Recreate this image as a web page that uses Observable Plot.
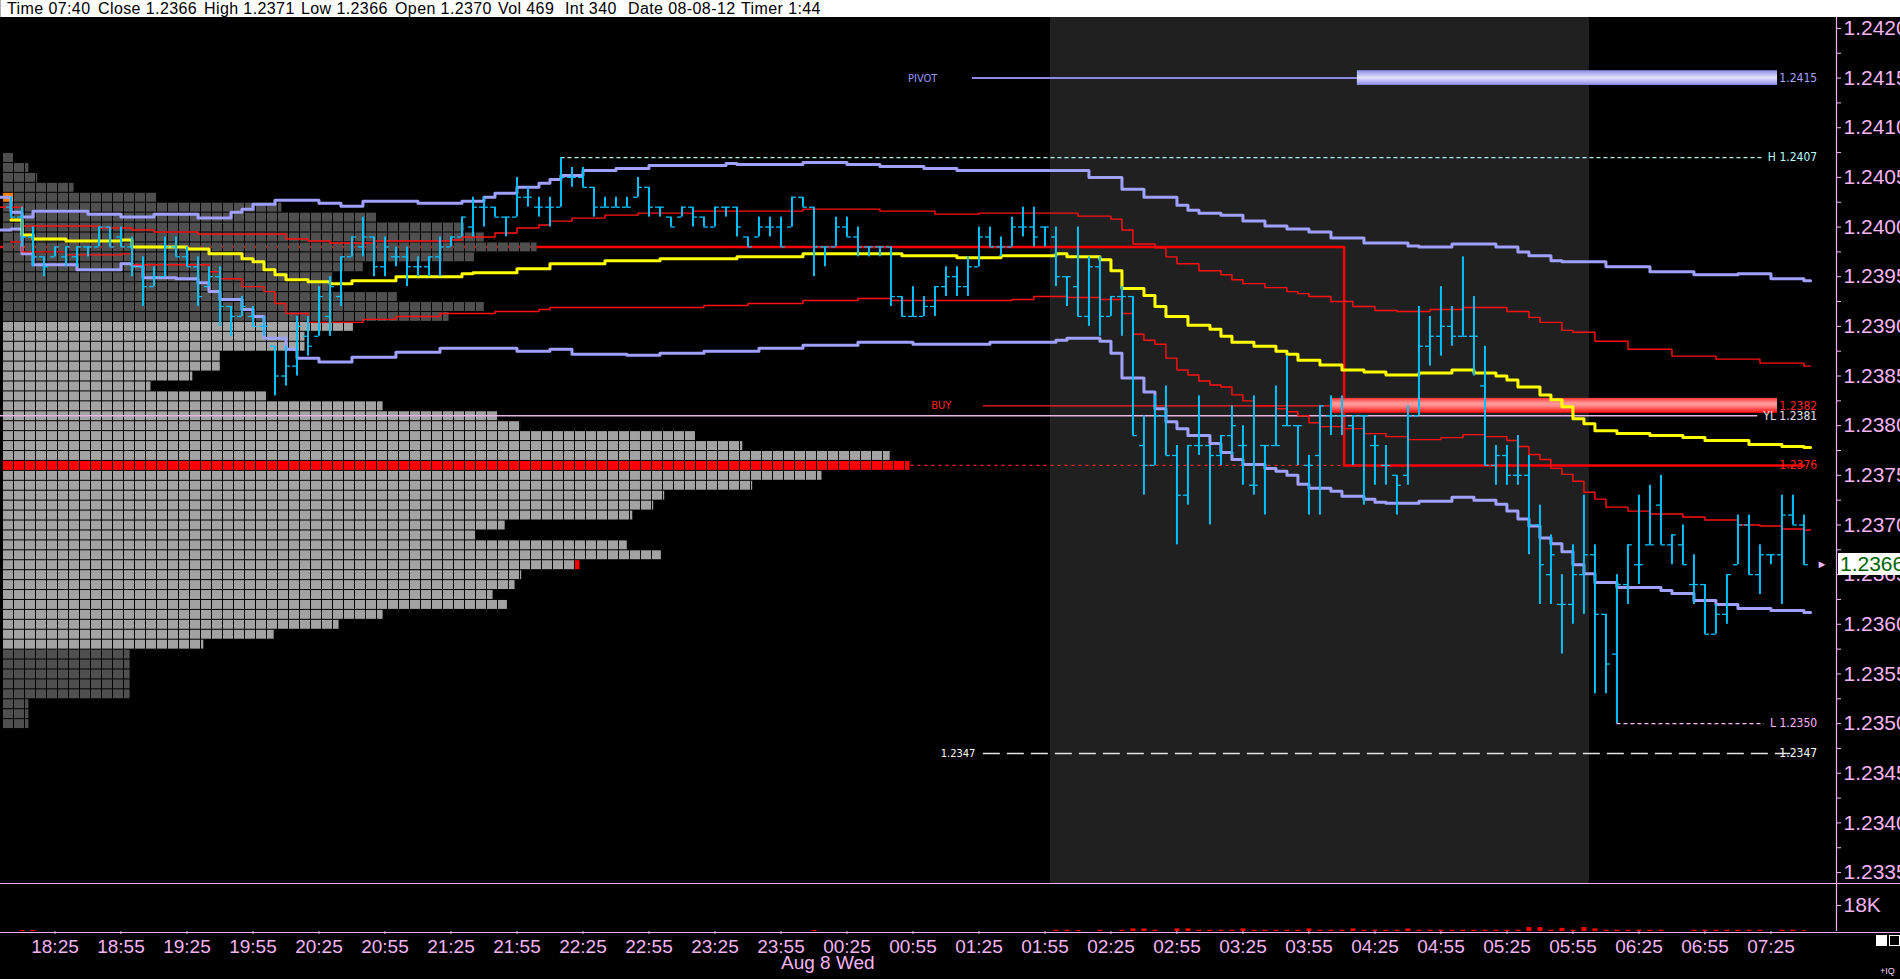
<!DOCTYPE html>
<html>
<head>
<meta charset="utf-8">
<script src="https://cdn.jsdelivr.net/npm/d3@7"></script>
<script src="https://cdn.jsdelivr.net/npm/@observablehq/plot@0.6"></script>
<style>
  html, body { margin:0; padding:0; background:#000; width:1900px; height:979px; overflow:hidden; }
  #wrap { position:relative; width:1900px; height:979px; background:#000; font-family:"Liberation Sans", Arial, sans-serif; }
  #hdr { position:absolute; left:0; top:0; width:1900px; height:17px; background:#fff; border-left:1px solid #b0b0b0; box-sizing:border-box; overflow:hidden; }
  #hdr span { position:absolute; top:0; font-size:16px; letter-spacing:0.4px; line-height:17px; color:#000; white-space:nowrap; }
  #main { position:absolute; left:0; top:17px; }
  #vol { position:absolute; left:0; top:883px; }
  .hline { position:absolute; left:0; width:1900px; height:1px; background:#f4b4f4; }
  #pricebox { position:absolute; left:1838px; width:62px; height:22px; background:#fff; color:#006400; font-size:21px; line-height:22px; padding-left:2px; box-sizing:border-box; white-space:nowrap; overflow:hidden; }
  .sq { position:absolute; width:11px; height:11px; box-sizing:border-box; }
  #iq { position:absolute; left:1880px; top:966px; font-size:9px; color:#f0d8f0; }
</style>
</head>
<body>
<div id="wrap">
  <div id="hdr"></div>
  <div id="main"></div>
  <div id="vol"></div>
</div>
<script>
// ---------------- DATA ----------------
const headerFields = ["Time 07:40", "Close 1.2366", "High 1.2371", "Low 1.2366", "Open 1.2370", "Vol 469", "Int 340", "Date 08-08-12", "Timer 1:44"];

const priceTicks = [1.2335, 1.2340, 1.2345, 1.2350, 1.2355, 1.2360, 1.2365, 1.2370, 1.2375, 1.2380, 1.2385, 1.2390, 1.2395, 1.2400, 1.2405, 1.2410, 1.2415, 1.2420];
const minorTicks = [1.23375, 1.23425, 1.23475, 1.23525, 1.23575, 1.23625, 1.23675, 1.23725, 1.23775, 1.23825, 1.23875, 1.23925, 1.23975, 1.24025, 1.24075, 1.24125, 1.24175];
const timeTicks = ["18:25","18:55","19:25","19:55","20:25","20:55","21:25","21:55","22:25","22:55","23:25","23:55","00:25","00:55","01:25","01:55","02:25","02:55","03:25","03:55","04:25","04:55","05:25","05:55","06:25","06:55","07:25"];
const dateLabels = [{ t: "23:55", text: "Aug 8 Wed" }];
const volTickValues = [18000];
const volTickLabels = ["18K"];

// 5-minute OHLC bars, first bar 18:05
const firstBar = "18:05";
const barHigh = [
 1.2403,1.2402,1.2400,1.2397,1.2398,1.2398,1.2398,1.2398,1.2400,1.2400,
 1.2400,1.2399,1.2397,1.2396,1.2399,1.2399,1.2398,1.2397,1.2396,1.2396,
 1.2392,1.2393,1.2392,1.2391,1.2388,1.2388,1.2391,1.2391,1.2394,1.2395,
 1.2397,1.2399,1.2401,1.2399,1.2399,1.2398,1.2398,1.2397,1.2397,1.2399,
 1.2399,1.2401,1.2403,1.2403,1.2402,1.2401,1.2405,1.2404,1.2403,1.2403,
 1.2407,1.2406,1.2406,1.2404,1.2403,1.2403,1.2403,1.2405,1.2404,1.2402,
 1.2401,1.2402,1.2402,1.2401,1.2402,1.2402,1.2402,1.2399,1.2401,1.2401,
 1.2401,1.2403,1.2403,1.2402,1.2398,1.2401,1.2401,1.2400,1.2398,1.2398,
 1.2398,1.2393,1.2394,1.2393,1.2394,1.2396,1.2396,1.2397,1.2400,1.2400,
 1.2399,1.2401,1.2402,1.2402,1.2400,1.2400,1.2395,1.2400,1.2397,1.2397,
 1.2393,1.2394,1.2393,1.2381,1.2383,1.2384,1.2378,1.2378,1.2383,1.2378,
 1.2379,1.2382,1.2380,1.2383,1.2378,1.2384,1.2387,1.2380,1.2377,1.2382,
 1.2383,1.2383,1.2381,1.2381,1.2379,1.2378,1.2375,1.2382,1.2392,1.2391,
 1.2394,1.2392,1.2397,1.2393,1.2388,1.2378,1.2378,1.2379,1.2377,1.2372,
 1.2369,1.2365,1.2368,1.2373,1.2368,1.2361,1.2365,1.2368,1.2373,1.2374,
 1.2375,1.2369,1.2370,1.2367,1.2364,1.2362,1.2365,1.2371,1.2371,1.2368,
 1.2367,1.2373,1.2373,1.2371];
const barLow = [
 1.2401,1.2398,1.2396,1.2395,1.2397,1.2396,1.2396,1.2397,1.2398,1.2398,
 1.2398,1.2395,1.2392,1.2394,1.2395,1.2397,1.2396,1.2392,1.2394,1.2390,
 1.2389,1.2391,1.2390,1.2389,1.2383,1.2384,1.2385,1.2387,1.2389,1.2389,
 1.2392,1.2397,1.2397,1.2395,1.2395,1.2396,1.2394,1.2395,1.2395,1.2395,
 1.2398,1.2399,1.2399,1.2400,1.2401,1.2399,1.2401,1.2402,1.2401,1.2400,
 1.2402,1.2404,1.2404,1.2401,1.2402,1.2402,1.2402,1.2403,1.2401,1.2401,
 1.2400,1.2401,1.2400,1.2400,1.2400,1.2401,1.2399,1.2398,1.2399,1.2399,
 1.2398,1.2400,1.2402,1.2395,1.2396,1.2398,1.2399,1.2397,1.2397,1.2397,
 1.2392,1.2391,1.2391,1.2391,1.2391,1.2393,1.2393,1.2393,1.2396,1.2398,
 1.2397,1.2398,1.2399,1.2398,1.2398,1.2394,1.2392,1.2391,1.2390,1.2389,
 1.2391,1.2389,1.2379,1.2373,1.2376,1.2377,1.2368,1.2372,1.2377,1.2370,
 1.2376,1.2377,1.2374,1.2373,1.2371,1.2378,1.2380,1.2376,1.2371,1.2371,
 1.2379,1.2379,1.2376,1.2372,1.2374,1.2374,1.2371,1.2374,1.2381,1.2386,
 1.2387,1.2388,1.2389,1.2385,1.2376,1.2374,1.2374,1.2374,1.2367,1.2362,
 1.2362,1.2357,1.2360,1.2361,1.2353,1.2353,1.2350,1.2362,1.2364,1.2368,
 1.2368,1.2366,1.2366,1.2362,1.2359,1.2359,1.2360,1.2366,1.2365,1.2363,
 1.2366,1.2362,1.2370,1.2366];
const barOpen = [
 1.2402,1.2401,1.2399,1.2397,1.2397,1.2397,1.2397,1.2398,1.2398,1.2400,
 1.2399,1.2398,1.2396,1.2394,1.2395,1.2398,1.2397,1.2396,1.2394,1.2395,
 1.2392,1.2391,1.2391,1.2390,1.2388,1.2385,1.2386,1.2389,1.2389,1.2391,
 1.2393,1.2397,1.2398,1.2399,1.2396,1.2397,1.2397,1.2396,1.2396,1.2397,
 1.2398,1.2399,1.2400,1.2402,1.2402,1.2401,1.2401,1.2403,1.2402,1.2402,
 1.2402,1.2405,1.2405,1.2404,1.2402,1.2402,1.2402,1.2403,1.2404,1.2402,
 1.2401,1.2401,1.2402,1.2401,1.2400,1.2402,1.2402,1.2399,1.2399,1.2400,
 1.2400,1.2400,1.2403,1.2402,1.2398,1.2398,1.2400,1.2399,1.2398,1.2398,
 1.2398,1.2393,1.2391,1.2391,1.2392,1.2394,1.2395,1.2394,1.2396,1.2399,
 1.2398,1.2398,1.2400,1.2400,1.2400,1.2399,1.2395,1.2394,1.2391,1.2396,
 1.2391,1.2393,1.2393,1.2378,1.2376,1.2381,1.2377,1.2373,1.2378,1.2378,
 1.2377,1.2379,1.2378,1.2374,1.2378,1.2378,1.2380,1.2380,1.2376,1.2377,
 1.2381,1.2381,1.2380,1.2381,1.2378,1.2376,1.2375,1.2375,1.2381,1.2388,
 1.2389,1.2390,1.2389,1.2389,1.2384,1.2376,1.2377,1.2375,1.2375,1.2370,
 1.2365,1.2362,1.2362,1.2365,1.2367,1.2361,1.2357,1.2364,1.2366,1.2368,
 1.2372,1.2368,1.2368,1.2364,1.2364,1.2359,1.2361,1.2366,1.2370,1.2365,
 1.2367,1.2367,1.2371,1.2370];
const barClose = [
 1.2401,1.2399,1.2397,1.2396,1.2398,1.2398,1.2398,1.2398,1.2400,1.2398,
 1.2398,1.2396,1.2394,1.2395,1.2398,1.2397,1.2396,1.2393,1.2395,1.2392,
 1.2391,1.2392,1.2390,1.2390,1.2385,1.2386,1.2390,1.2388,1.2393,1.2394,
 1.2397,1.2399,1.2399,1.2396,1.2398,1.2397,1.2396,1.2396,1.2397,1.2398,
 1.2399,1.2401,1.2402,1.2402,1.2401,1.2401,1.2403,1.2403,1.2402,1.2402,
 1.2405,1.2405,1.2404,1.2402,1.2402,1.2402,1.2402,1.2404,1.2402,1.2402,
 1.2400,1.2402,1.2401,1.2400,1.2402,1.2402,1.2400,1.2398,1.2400,1.2400,
 1.2398,1.2403,1.2402,1.2398,1.2398,1.2400,1.2399,1.2398,1.2398,1.2398,
 1.2393,1.2391,1.2391,1.2392,1.2394,1.2395,1.2394,1.2396,1.2399,1.2398,
 1.2398,1.2400,1.2400,1.2399,1.2400,1.2395,1.2395,1.2391,1.2396,1.2391,
 1.2393,1.2393,1.2379,1.2376,1.2381,1.2377,1.2373,1.2378,1.2378,1.2377,
 1.2379,1.2380,1.2378,1.2374,1.2378,1.2378,1.2380,1.2380,1.2376,1.2382,
 1.2381,1.2381,1.2381,1.2381,1.2378,1.2376,1.2374,1.2381,1.2388,1.2389,
 1.2390,1.2389,1.2389,1.2389,1.2376,1.2377,1.2375,1.2375,1.2370,1.2366,
 1.2367,1.2362,1.2365,1.2367,1.2361,1.2356,1.2364,1.2368,1.2366,1.2368,
 1.2368,1.2369,1.2366,1.2364,1.2359,1.2361,1.2365,1.2370,1.2365,1.2367,
 1.2367,1.2371,1.2370,1.2366];

// volume profile (rows of 1 pip, width in 5-minute cells)
const profilePrices = [
 1.2407,1.2406,1.2405,1.2404,1.2403,1.2402,1.2401,1.2400,1.2399,1.2398,
 1.2397,1.2396,1.2395,1.2394,1.2393,1.2392,1.2391,1.2390,1.2389,1.2388,
 1.2387,1.2386,1.2385,1.2384,1.2383,1.2382,1.2381,1.2380,1.2379,1.2378,
 1.2377,1.2376,1.2375,1.2374,1.2373,1.2372,1.2371,1.2370,1.2369,1.2368,
 1.2367,1.2366,1.2365,1.2364,1.2363,1.2362,1.2361,1.2360,1.2359,1.2358,
 1.2357,1.2356,1.2355,1.2354,1.2353,1.2352,1.2351,1.2350];
const profileCells = [
 1.0,2.4,3.2,6.5,14.0,25.4,34.0,42.1,43.8,48.6,
 42.9,32.8,30.0,29.7,35.9,43.8,40.6,31.9,27.5,27.5,
 19.8,19.8,17.3,13.5,24.1,34.6,45.0,47.1,63.0,67.3,
 80.7,82.5,74.5,68.2,60.2,59.2,57.3,45.7,43.0,56.8,
 59.9,52.5,47.2,46.6,44.6,45.9,34.6,30.6,24.7,18.3,
 11.6,11.6,11.6,11.6,11.6,2.4,2.4,2.4];
const valueAreaHigh = 1.2390, valueAreaLow = 1.2358, pocPrice = 1.2376, openRowPrice = 1.2403;

// step bands [time, price]
const upperLavender = [["18:00",1.2403],["18:05",1.24015],["18:10",1.2401],["18:15",1.24016],["18:40",1.24013],["18:55",1.2401],["19:10",1.24013],["19:30",1.24009],["19:45",1.24015],["19:50",1.24018],["19:55",1.24023],["20:05",1.24027],["20:25",1.24024],["20:35",1.24021],["20:45",1.24026],["21:10",1.24024],["21:30",1.24026],["21:40",1.2403],["21:45",1.24034],["21:55",1.2404],["22:05",1.24044],["22:10",1.24048],["22:15",1.24052],["22:25",1.24057],["22:40",1.24059],["22:55",1.24062],["23:30",1.24064],["23:35",1.24063],["00:05",1.24065],["00:25",1.24063],["00:40",1.24061],["01:00",1.24059],["01:15",1.24057],["02:15",1.2405],["02:30",1.24038],["02:40",1.2403],["02:55",1.24022],["03:00",1.24017],["03:05",1.24014],["03:15",1.24012],["03:25",1.24006],["03:35",1.24001],["03:45",1.23998],["03:55",1.23995],["04:05",1.23989],["04:20",1.23984],["04:40",1.23981],["04:45",1.2398],["05:00",1.23983],["05:20",1.2398],["05:30",1.23975],["05:35",1.23971],["05:45",1.23966],["05:50",1.23965],["06:10",1.2396],["06:30",1.23955],["06:50",1.23952],["07:10",1.23953],["07:25",1.23948],["07:40",1.23946]];
const upperRed = [["18:00",1.2402],["18:10",1.24001],["18:45",1.23999],["19:00",1.23997],["19:10",1.23995],["19:30",1.23993],["20:10",1.23988],["20:20",1.23986],["20:30",1.23984],["20:50",1.23986],["21:25",1.23987],["21:30",1.2399],["21:45",1.23994],["21:55",1.23999],["22:05",1.24002],["22:10",1.24006],["22:20",1.24009],["22:35",1.24012],["22:50",1.24014],["23:15",1.24016],["00:05",1.24018],["00:40",1.24016],["01:05",1.24013],["01:25",1.24014],["02:10",1.24011],["02:25",1.24008],["02:30",1.23997],["02:35",1.23983],["02:45",1.23979],["02:50",1.2397],["02:55",1.23963],["03:05",1.23956],["03:15",1.23952],["03:20",1.23947],["03:25",1.23943],["03:35",1.23939],["03:45",1.23935],["03:50",1.23933],["03:55",1.2393],["04:05",1.23925],["04:15",1.2392],["04:25",1.23916],["04:35",1.23915],["04:50",1.23917],["05:05",1.23919],["05:25",1.23915],["05:35",1.23909],["05:40",1.23904],["05:50",1.23896],["05:55",1.23894],["06:05",1.23885],["06:20",1.23877],["06:40",1.2387],["07:00",1.23867],["07:20",1.23863],["07:40",1.2386]];
const vwapYellow = [["18:05",1.24007],["18:10",1.23992],["18:15",1.23988],["18:30",1.23986],["18:55",1.23987],["19:00",1.2398],["19:25",1.23978],["19:35",1.23973],["19:50",1.23968],["19:55",1.23965],["20:00",1.23957],["20:05",1.23952],["20:10",1.23947],["20:20",1.23945],["20:30",1.23943],["20:40",1.23946],["21:00",1.2395],["21:30",1.23953],["21:35",1.23954],["21:55",1.23958],["22:10",1.23963],["22:35",1.23966],["23:00",1.23968],["23:35",1.2397],["00:05",1.23973],["00:50",1.23971],["01:15",1.23969],["01:35",1.23971],["02:00",1.23973],["02:05",1.2397],["02:20",1.23967],["02:25",1.23956],["02:30",1.23938],["02:40",1.23931],["02:45",1.2392],["02:50",1.2391],["03:00",1.23901],["03:10",1.23897],["03:15",1.2389],["03:20",1.23884],["03:30",1.2388],["03:40",1.23875],["03:45",1.23872],["03:50",1.23866],["04:00",1.23861],["04:10",1.23856],["04:20",1.23854],["04:30",1.23851],["04:45",1.23853],["05:00",1.23856],["05:10",1.23853],["05:20",1.2385],["05:25",1.23846],["05:30",1.23839],["05:40",1.23831],["05:45",1.23826],["05:50",1.23819],["05:55",1.23807],["06:00",1.23802],["06:05",1.23795],["06:15",1.23792],["06:30",1.2379],["06:45",1.23788],["06:55",1.23785],["07:15",1.23781],["07:30",1.23779],["07:40",1.23778]];
const lowerRed = [["18:05",1.23985],["18:10",1.23975],["18:30",1.23972],["18:55",1.23973],["19:00",1.23962],["19:35",1.23955],["19:40",1.23948],["19:50",1.2394],["20:00",1.23935],["20:05",1.23923],["20:10",1.23913],["20:20",1.23904],["20:45",1.23907],["21:00",1.2391],["21:20",1.23913],["21:45",1.23915],["22:05",1.23917],["22:10",1.23919],["23:20",1.23921],["23:40",1.23923],["00:05",1.23926],["00:30",1.23928],["00:45",1.23926],["01:40",1.23927],["01:50",1.2393],["02:05",1.23929],["02:20",1.23927],["02:30",1.23913],["02:35",1.23892],["02:40",1.23886],["02:45",1.23882],["02:50",1.23868],["02:55",1.23856],["03:00",1.23851],["03:05",1.23845],["03:10",1.23841],["03:15",1.23839],["03:20",1.23831],["03:25",1.23825],["03:30",1.2382],["03:40",1.23817],["03:45",1.23814],["03:50",1.2381],["03:55",1.23803],["04:00",1.23799],["04:10",1.23797],["04:20",1.23792],["04:30",1.23789],["04:40",1.23786],["04:55",1.23788],["05:05",1.23791],["05:15",1.23789],["05:25",1.23785],["05:30",1.23779],["05:35",1.23771],["05:40",1.23766],["05:45",1.23757],["05:50",1.23751],["05:55",1.23744],["06:00",1.23733],["06:05",1.23726],["06:10",1.23718],["06:20",1.23714],["06:30",1.23711],["06:45",1.23708],["06:55",1.23705],["07:10",1.237],["07:20",1.23699],["07:30",1.23696],["07:40",1.23695]];
const lowerLavender = [["18:00",1.23997],["18:05",1.23998],["18:10",1.23973],["18:15",1.23962],["18:35",1.23957],["18:55",1.23963],["19:00",1.23961],["19:05",1.23949],["19:20",1.23948],["19:30",1.23944],["19:35",1.23935],["19:40",1.23927],["19:50",1.23917],["19:55",1.2391],["20:00",1.23888],["20:10",1.23877],["20:15",1.23868],["20:25",1.23864],["20:40",1.23869],["21:00",1.23874],["21:20",1.23878],["21:55",1.23875],["22:10",1.23877],["22:20",1.23872],["22:45",1.23871],["23:00",1.23873],["23:20",1.23875],["23:45",1.23878],["00:05",1.23881],["00:30",1.23884],["00:55",1.23882],["01:30",1.23884],["02:00",1.23886],["02:05",1.23888],["02:20",1.23885],["02:25",1.23873],["02:30",1.23848],["02:40",1.23834],["02:45",1.23817],["02:50",1.23804],["02:55",1.23797],["03:00",1.2379],["03:10",1.23782],["03:15",1.23773],["03:20",1.23766],["03:25",1.23761],["03:35",1.23757],["03:40",1.23754],["03:45",1.2375],["03:50",1.23741],["03:55",1.23737],["04:05",1.23734],["04:10",1.23729],["04:20",1.23726],["04:25",1.23723],["04:30",1.23722],["04:45",1.23724],["05:00",1.23728],["05:10",1.23725],["05:20",1.23721],["05:25",1.23714],["05:30",1.23706],["05:35",1.23699],["05:40",1.23687],["05:45",1.23681],["05:50",1.23673],["05:55",1.2366],["06:00",1.23651],["06:05",1.23642],["06:15",1.23637],["06:35",1.23634],["06:40",1.23631],["06:50",1.23624],["07:00",1.2362],["07:10",1.23616],["07:25",1.23614],["07:40",1.23612]];

// stop line (1.2398 then stepped to 1.2376)
const stopTimes = ["18:00", "04:11", "07:40"];
const stopPrices = [1.2398, 1.2376, 1.2376];

// horizontal levels
const pivotPrice = 1.2415, highPrice = 1.2407, buyPrice = 1.2382, ylPrice = 1.2381, lowPrice = 1.2350, dashPrice = 1.2347;
const rightLabels = ["1.2415", "H 1.2407", "1.2382", "YL 1.2381", "1.2376", "L 1.2350", "1.2347"];
const rightLabelPrices = [1.2415, 1.2407, 1.2382, 1.2381, 1.2376, 1.2350, 1.2347];
const leftLabels = ["PIVOT", "BUY", "1.2347"];
const leftLabelPrices = [1.2415, 1.2382, 1.2347];

// session shading
const sessionShade = ["01:57:30", "06:02:30"];

// volume (contracts) per 5-minute bar
const volTimes = ["18:10","18:15","00:10","02:00","02:05","02:10","02:20","02:30","02:35","02:40","02:45","02:55","03:00","03:05","03:10","03:15","03:20","03:25","03:30","03:35","03:40","03:45","03:50","03:55","04:00","04:05","04:10","04:15","04:20","04:25","04:30","04:35","04:40","04:45","04:50","04:55","05:00","05:05","05:10","05:15","05:20","05:25","05:30","05:35","05:40","05:45","05:50","05:55","06:00","06:05","06:10","06:15","06:20","06:25","06:30","06:35","06:50","06:55","07:00","07:05","07:10","07:15","07:20","07:30","07:35","07:40"];
const volValues = [700,700,700,900,900,700,900,900,1800,1800,900,1800,1800,900,900,900,900,1800,900,900,900,900,900,1800,900,900,900,1800,900,900,900,900,1800,900,900,900,900,900,900,900,900,900,900,2700,2700,900,2200,900,2700,1800,900,900,900,900,900,900,900,900,900,900,900,900,900,900,900,469];

// ---------------- HELPERS ----------------
const PINK = "#f4b4f4";
const SANS = '"Liberation Sans", Arial, Helvetica, sans-serif';
const SMALL = '"Liberation Sans Narrow", "DejaVu Sans Condensed", "Liberation Sans", sans-serif';
const DAY0 = Date.UTC(2012, 7, 7);
const MIN = 60000;
function T(s) {
  const parts = s.split(":").map(Number);
  const h = parts[0], m = parts[1], sec = parts[2] || 0;
  const hh = h < 12 ? h + 24 : h;
  return new Date(DAY0 + ((hh * 60 + m) * 60 + sec) * 1000);
}
const xDomain = [T("18:01:36"), T("07:54:48")];
const yDomain = [1.23339, 1.24211];

// header
const headerX = [6, 97, 203, 300, 394, 497, 564, 627, 740];
const hdr = document.getElementById("hdr");
headerFields.forEach((f, i) => { const s = document.createElement("span"); s.textContent = f; s.style.left = headerX[i] + "px"; hdr.appendChild(s); });

// bars
const t0 = T(firstBar);
const bars = barOpen.map((o, i) => ({ t: new Date(+t0 + i * 5 * MIN), o, h: barHigh[i], l: barLow[i], c: barClose[i] }));
const lastClose = barClose[barClose.length - 1];

// profile cells
const cellT = k => new Date(+xDomain[0] + k * 5 * MIN);
const near = (a, b) => Math.abs(a - b) < 1e-7;
const cells = [];
profilePrices.forEach((p, i) => {
  const n = profileCells[i];
  const kMax = Math.ceil(n);
  for (let k = 0; k < kMax; k++) {
    let fill = (p > valueAreaHigh + 1e-7 || p < valueAreaLow - 1e-7) ? "#4f4f4f" : "#a3a3a3";
    if (near(p, pocPrice)) fill = "#ff0000";
    if (near(p, openRowPrice) && k === 0) fill = "#ff8000";
    if (near(p, lastClose) && k === kMax - 1) fill = "#ff0000";
    cells.push({ p, a: k, b: Math.min(k + 1, n), fill });
  }
});
const pocEnd = cellT(profileCells[profilePrices.findIndex(p => near(p, pocPrice))]);

const mkBand = arr => {
  const pts = arr.map(([s, p]) => ({ t: T(s), p }));
  pts.push({ t: T("07:43"), p: arr[arr.length - 1][1] });
  return pts;
};
const stopPts = stopTimes.map((s, i) => ({ t: T(s), p: stopPrices[i] }));

const rightColors = ["#a4a4ff", "#b4ffff", "#ff2020", "#e8e0f0", "#ff2020", "#ffb4ff", "#ffffff"];
const leftColors = ["#9a9aff", "#ff2020", "#ffffff"];
const leftAnchorTimes = ["01:22", "01:27", "01:27"];
const leftDx = [-35, -32, -8];

// ---------------- MAIN PLOT ----------------
const main = Plot.plot({
  width: 1900, height: 866,
  marginLeft: 3, marginRight: 64, marginTop: 0, marginBottom: 0,
  x: { type: "utc", domain: xDomain, axis: null, label: null },
  y: { domain: yDomain, label: null },
  color: { type: "identity" },
  style: { background: "transparent", color: PINK, fontFamily: SANS, overflow: "visible" },
  marks: [
    Plot.rect([sessionShade], { x1: d => T(d[0]), x2: d => T(d[1]), fill: "#202020" }),
    Plot.line(stopPts, { x: "t", y: "p", curve: "step-after", stroke: "#ff0000", strokeWidth: 2.5 }),
    Plot.rect(cells, { x1: d => cellT(d.a), x2: d => cellT(d.b), y1: d => d.p - 0.00005, y2: d => d.p + 0.00005, fill: d => d.fill, insetRight: 1, insetTop: 1 }),
    Plot.ruleY([ylPrice], { x1: T("18:00"), x2: T("07:19"), stroke: "#e6b4e6", strokeWidth: 1.3 }),
    Plot.ruleY([pocPrice], { x1: pocEnd, x2: T("04:11"), stroke: "#ff2020", strokeWidth: 1.3, strokeDasharray: "3,4" }),
    Plot.ruleY([highPrice], { x1: T("22:15"), x2: T("07:22"), stroke: "#b4f4f4", strokeWidth: 1.2, strokeDasharray: "4,3" }),
    Plot.ruleY([lowPrice], { x1: T("06:15"), x2: T("07:22"), stroke: "#ffb4ff", strokeWidth: 1.2, strokeDasharray: "4,3" }),
    Plot.ruleY([dashPrice], { x1: T("01:27"), x2: T("07:34"), stroke: "#e4e4e4", strokeWidth: 1.5, strokeDasharray: "17,7" }),
    Plot.ruleY([pivotPrice], { x1: T("01:22"), x2: T("04:17"), stroke: "#8a8ae8", strokeWidth: 2 }),
    Plot.ruleY([buyPrice], { x1: T("01:27"), x2: T("04:05"), stroke: "#ff2020", strokeWidth: 1.2 }),
    Plot.rect([pivotPrice], { x1: T("04:17"), x2: T("07:28"), y1: d => d - 0.000074, y2: d => d + 0.000074, fill: "url(#gPivot)" }),
    Plot.rect([buyPrice], { x1: T("04:05"), x2: T("07:28"), y1: d => d - 0.000075, y2: d => d + 0.000075, fill: "url(#gBuy)" }),
    // bands
    Plot.line(mkBand(lowerLavender), { x: "t", y: "p", curve: "step-after", stroke: "#a0a0ff", strokeWidth: 3 }),
    Plot.line(mkBand(upperLavender), { x: "t", y: "p", curve: "step-after", stroke: "#a0a0ff", strokeWidth: 3 }),
    Plot.line(mkBand(lowerRed), { x: "t", y: "p", curve: "step-after", stroke: "#ff1010", strokeWidth: 1.4 }),
    Plot.line(mkBand(upperRed), { x: "t", y: "p", curve: "step-after", stroke: "#ff1010", strokeWidth: 1.4 }),
    Plot.line(mkBand(vwapYellow), { x: "t", y: "p", curve: "step-after", stroke: "#ffff00", strokeWidth: 3 }),
    // OHLC bars
    Plot.ruleX(bars, { x: "t", y1: "l", y2: "h", stroke: "#00c0ff", strokeWidth: 2 }),
    Plot.ruleY(bars, { y: "o", x1: d => new Date(+d.t - 2 * MIN), x2: "t", stroke: "#00c0ff", strokeWidth: 1.3 }),
    Plot.ruleY(bars, { y: "c", x1: "t", x2: d => new Date(+d.t + 2 * MIN), stroke: "#00c0ff", strokeWidth: 1.3 }),
    // labels
    Plot.text(rightLabels, { x: T("07:46"), y: (d, i) => rightLabelPrices[i], text: d => d, fill: (d, i) => rightColors[i], textAnchor: "end", fontSize: 12, fontFamily: SMALL }),
    Plot.text(leftLabels, { x: (d, i) => T(leftAnchorTimes[i]), y: (d, i) => leftLabelPrices[i], text: d => d, fill: (d, i) => leftColors[i], textAnchor: "end", fontSize: 11, fontFamily: SMALL }),
    // current price arrow
    Plot.text([lastClose], { y: d => d, frameAnchor: "right", dx: -9, text: () => "\u25BA", fill: PINK, fontSize: 11 }),
    // axis
    Plot.ruleX([xDomain[1]], { stroke: PINK, strokeWidth: 1.2 }),
    Plot.axisY(minorTicks, { anchor: "right", tickSize: 4, tickFormat: () => "", label: null }),
    Plot.axisY(priceTicks, { anchor: "right", tickSize: 4, tickPadding: 3, tickFormat: d3.format(".4f"), fontSize: 21, fontFamily: SANS, label: null })
  ]
});
document.getElementById("main").appendChild(main);

(function () {
  const svgEl = main.tagName.toLowerCase() === "svg" ? main : main.querySelector("svg");
  // gradients for level bars
  const defs = d3.select(svgEl).insert("defs", ":first-child");
  const gp = defs.append("linearGradient").attr("id", "gPivot").attr("x1", 0).attr("y1", 0).attr("x2", 0).attr("y2", 1);
  [[0, "#8c8ce8"], [0.25, "#b8b8f4"], [0.5, "#e2e2fa"], [0.75, "#b8b8f4"], [1, "#8c8ce8"]].forEach(([o, c]) => gp.append("stop").attr("offset", o).attr("stop-color", c));
  const gb = defs.append("linearGradient").attr("id", "gBuy").attr("x1", 0).attr("y1", 0).attr("x2", 0).attr("y2", 1);
  [[0, "#ff3030"], [0.35, "#ff9c9c"], [0.55, "#ff8a8a"], [0.8, "#ff4040"], [1, "#ff1010"]].forEach(([o, c]) => gb.append("stop").attr("offset", o).attr("stop-color", c));
  // per-label horizontal nudge for left labels
  const texts = Array.from(svgEl.querySelectorAll("text")).filter(t => leftLabels.includes(t.textContent) && (t.getAttribute("font-size") === "11" || (t.parentNode && t.parentNode.getAttribute && t.parentNode.getAttribute("font-size") === "11")));
  texts.forEach(t => {
    const i = leftLabels.indexOf(t.textContent);
    const x = parseFloat(t.getAttribute("x"));
    if (!isNaN(x)) t.setAttribute("x", x + leftDx[i]);
    else {
      const tr = t.getAttribute("transform") || "";
      t.setAttribute("transform", tr + ` translate(${leftDx[i]},0)`);
    }
  });
})();

// current price box
const yPix = main.scale("y").apply(lastClose);
const box = document.createElement("div");
box.id = "pricebox";
box.textContent = d3.format(".4f")(lastClose);
box.style.top = (17 + yPix - 11) + "px";
document.getElementById("wrap").appendChild(box);

// ---------------- VOLUME PANE + TIME AXIS ----------------
const vols = volTimes.map((s, i) => ({ t: T(s), v: volValues[i] }));
const volPlot = Plot.plot({
  width: 1900, height: 96,
  marginLeft: 3, marginRight: 64, marginTop: 0, marginBottom: 48,
  x: { type: "utc", domain: xDomain, label: null },
  y: { domain: [0, 33231], label: null },
  style: { background: "transparent", color: PINK, fontFamily: SANS, overflow: "visible" },
  marks: [
    Plot.ruleX(vols, { x: "t", y1: 0, y2: "v", stroke: "#ff0000", strokeWidth: 5 }),
    Plot.ruleX([xDomain[1]], { stroke: PINK, strokeWidth: 1.2 }),
    Plot.axisY(volTickValues, { anchor: "right", tickSize: 4, tickPadding: 3, tickFormat: (d, i) => volTickLabels[i], fontSize: 21, fontFamily: SANS, label: null }),
    Plot.axisX(timeTicks.map(T), { anchor: "bottom", tickSize: 3, tickPadding: 5, tickFormat: d3.utcFormat("%H:%M"), fontSize: 19, fontFamily: SANS, label: null }),
    Plot.text(dateLabels, { x: d => T(d.t), text: "text", frameAnchor: "bottom", dy: 37, textAnchor: "start", fontSize: 19, fill: PINK, fontFamily: SANS })
  ]
});
document.getElementById("vol").appendChild(volPlot);

// pane separator lines and small widgets
const wrap = document.getElementById("wrap");
[883, 932].forEach(y => { const d = document.createElement("div"); d.className = "hline"; d.style.top = y + "px"; wrap.appendChild(d); });
const sq1 = document.createElement("div"); sq1.className = "sq"; sq1.style.left = "1876px"; sq1.style.top = "935px"; sq1.style.background = "#fff"; wrap.appendChild(sq1);
const sq2 = document.createElement("div"); sq2.className = "sq"; sq2.style.left = "1889px"; sq2.style.top = "935px"; sq2.style.border = "1px solid #fff"; wrap.appendChild(sq2);
const iq = document.createElement("div"); iq.id = "iq"; iq.textContent = "+IQ"; wrap.appendChild(iq);
</script>
</body>
</html>
